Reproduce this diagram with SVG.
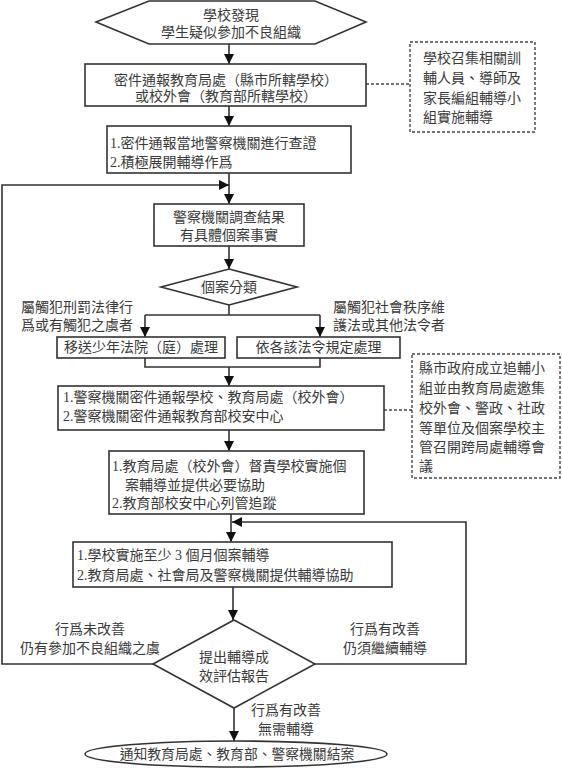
<svg xmlns="http://www.w3.org/2000/svg" width="562" height="768" viewBox="0 0 562 768">
<style>
.b{fill:#fff;stroke:#333;stroke-width:1.6}
.d{fill:#fff;stroke:#444;stroke-width:1.4;stroke-dasharray:3,2}
.l{fill:none;stroke:#333;stroke-width:1.6}
.dl{fill:none;stroke:#444;stroke-width:1.4;stroke-dasharray:3,2}
text{font-family:"Liberation Serif","Noto Sans CJK TC",serif;font-size:14px;fill:#3a3a3a;dominant-baseline:central}
.m{text-anchor:middle}
</style>
<defs>
<marker id="a" viewBox="0 0 10 10" refX="10" refY="5" markerWidth="10" markerHeight="10" markerUnits="userSpaceOnUse" orient="auto"><path d="M0,0L10,5L0,10z" fill="#111"/></marker>
</defs>
<rect width="562" height="768" fill="#fff"/>
<g id="connectors">
<path class="l" d="M229,44V64" marker-end="url(#a)"/>
<path class="dl" d="M366,84H410"/>
<path class="l" d="M229,106V126" marker-end="url(#a)"/>
<path class="l" d="M229,173V204" marker-end="url(#a)"/>
<path class="l" d="M153,664H2V185H229" marker-end="url(#a)"/>
<path class="l" d="M229,246V269" marker-end="url(#a)"/>
<path class="l" d="M229,305V315"/>
<path class="l" d="M145,315H320"/>
<path class="l" d="M145,315V337" marker-end="url(#a)"/>
<path class="l" d="M320,315V337" marker-end="url(#a)"/>
<path class="l" d="M145,358V367H320V358"/>
<path class="l" d="M229,367V386" marker-end="url(#a)"/>
<path class="dl" d="M384,410H412"/>
<path class="l" d="M229,430V451" marker-end="url(#a)"/>
<path class="l" d="M231,514V542" marker-end="url(#a)"/>
<path class="l" d="M315,664H466V522H232" marker-end="url(#a)"/>
<path class="l" d="M233,587V620" marker-end="url(#a)"/>
<path class="l" d="M234,708V741" marker-end="url(#a)"/>
</g>
<g id="start"><polygon class="b" points="96,22 149,1 315,1 366,22 315,44 149,44"/><text class="m" x="231" y="15">學校發現</text><text class="m" x="231" y="32">學生疑似參加不良組織</text></g>
<g id="notify"><rect class="b" x="85" y="64" width="281" height="42"/><text class="m" x="226" y="80">密件通報教育局處（縣市所轄學校）</text><text class="m" x="226" y="96">或校外會（教育部所轄學校）</text></g>
<g id="note1"><rect class="d" x="410" y="42" width="125" height="90"/><text x="423" y="58">學校召集相關訓</text><text x="423" y="78">輔人員、導師及</text><text x="423" y="98">家長編組輔導小</text><text x="423" y="117">組實施輔導</text></g>
<g id="police"><rect class="b" x="107" y="126" width="244" height="47"/><text x="110" y="143">1.密件通報當地警察機關進行查證</text><text x="110" y="162">2.積極展開輔導作爲</text></g>
<g id="result"><rect class="b" x="154" y="204" width="150" height="42"/><text class="m" x="229" y="217">警察機關調查結果</text><text class="m" x="229" y="235">有具體個案事實</text></g>
<g id="classify"><polygon class="b" points="229,269 297,287 229,305 161,287"/><text class="m" x="229" y="287">個案分類</text></g>
<g id="lbl-crim"><text class="m" x="77" y="307">屬觸犯刑罰法律行</text><text class="m" x="77" y="325">爲或有觸犯之虞者</text></g>
<g id="lbl-order"><text class="m" x="389" y="307">屬觸犯社會秩序維</text><text class="m" x="389" y="325">護法或其他法令者</text></g>
<g id="court"><rect class="b" x="57" y="337" width="168" height="21"/><text class="m" x="141" y="347.5">移送少年法院（庭）處理</text></g>
<g id="law"><rect class="b" x="237" y="337" width="163" height="21"/><text class="m" x="318.5" y="347.5">依各該法令規定處理</text></g>
<g id="report"><rect class="b" x="58" y="386" width="326" height="44"/><text x="63" y="397">1.警察機關密件通報學校、教育局處（校外會）</text><text x="63" y="416">2.警察機關密件通報教育部校安中心</text></g>
<g id="note2"><rect class="d" x="412" y="354" width="148" height="124"/><text x="419" y="368">縣市政府成立追輔小</text><text x="419" y="388">組並由教育局處邀集</text><text x="419" y="408">校外會、警政、社政</text><text x="419" y="428">等單位及個案學校主</text><text x="419" y="447">管召開跨局處輔導會</text><text x="419" y="466">議</text></g>
<g id="supervise"><rect class="b" x="109" y="451" width="255" height="63"/><text x="112" y="466">1.教育局處（校外會）督責學校實施個</text><text x="125" y="485">案輔導並提供必要協助</text><text x="112" y="503">2.教育部校安中心列管追蹤</text></g>
<g id="counsel"><rect class="b" x="73" y="542" width="319" height="45"/><text x="77" y="555">1.學校實施至少 3 個月個案輔導</text><text x="77" y="575">2.教育局處、社會局及警察機關提供輔導協助</text></g>
<g id="evaluate"><polygon class="b" points="234,620 315,664 234,708 153,664"/><text class="m" x="234" y="657">提出輔導成</text><text class="m" x="234" y="676">效評估報告</text></g>
<g id="lbl-no"><text class="m" x="90" y="629">行爲未改善</text><text class="m" x="90" y="648">仍有參加不良組織之虞</text></g>
<g id="lbl-cont"><text class="m" x="385" y="629">行爲有改善</text><text class="m" x="385" y="648">仍須繼續輔導</text></g>
<g id="lbl-done"><text class="m" x="286" y="710">行爲有改善</text><text class="m" x="286" y="729">無需輔導</text></g>
<g id="end"><ellipse class="b" cx="236" cy="754" rx="151" ry="13"/><text class="m" x="237" y="754" style="font-size:13.8px">通知教育局處、教育部、警察機關結案</text></g>
</svg>
